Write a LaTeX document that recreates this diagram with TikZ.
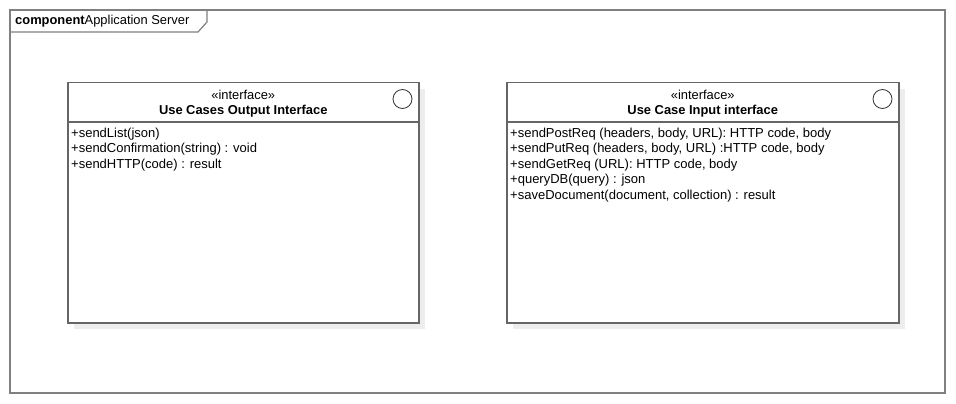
\documentclass[tikz,border=0pt]{standalone}
\usepackage{fontspec}
\setmainfont{Liberation Sans}
\usetikzlibrary{shadows}
\begin{document}
\begin{tikzpicture}[x=1pt,y=-1pt]
	\tikzstyle{frame}=[draw=black!50,line width=1.2pt]
	\tikzstyle{iface}=[draw=black!60,line width=1.5pt,fill=white,inner sep=0pt,anchor=north west,minimum height=240pt,
		drop shadow={shadow xshift=6pt,shadow yshift=-6pt,fill=black!7,opacity=1}]
	\tikzstyle{sep}=[draw=black!60,line width=1.2pt]
	\tikzstyle{ball}=[circle,draw=black!80,line width=0.8pt,minimum size=19pt,inner sep=0pt]
	\tikzstyle{label}=[inner sep=0pt,font=\fontsize{12.9}{14}\selectfont]
	\tikzstyle{ops}=[inner sep=0pt,anchor=north west,align=left,font=\fontsize{13}{15.6}\selectfont]
	\useasboundingbox (0,0) rectangle (956,404);
	% package frame
	\coordinate (tl) at (10,10);
	\coordinate (br) at (945,393);
	\draw[frame] (tl) rectangle (br);
	\draw[frame] (10,32) -- (198,32) -- (207,22) -- (207,10);
	\node[label,anchor=west] (title) at (15,21) {\textbf{component}Application Server};
	\begin{scope}
		% output interface
		\node[iface,minimum width=351pt] (out) at (67,82) {};
		\node[ball] (outb) at ([shift={(-17,17)}]out.north east) {};
		\node[label] (outst) at ([yshift=-13pt]out.north) {«interface»};
		\node[label,font=\fontsize{12.9}{14}\selectfont\bfseries] (outn) at ([yshift=-29.5pt]out.north) {Use Cases Output Interface};
		\path[sep] ([yshift=-40pt]out.north west) -- ([yshift=-40pt]out.north east);
		\node[ops] (outo) at ([shift={(4,45.5)}]out.north west) {+sendList(json)\\+sendConfirmation(string) : void\\+sendHTTP(code) : result};
	\end{scope}
	\begin{scope}
		% input interface
		\node[iface,minimum width=392pt] (in) at (506,82) {};
		\node[ball] (inb) at ([shift={(-17,17)}]in.north east) {};
		\node[label] (inst) at ([yshift=-13pt]in.north) {«interface»};
		\node[label,font=\fontsize{12.9}{14}\selectfont\bfseries] (inn) at ([yshift=-29.5pt]in.north) {Use Case Input interface};
		\path[sep] ([yshift=-40pt]in.north west) -- ([yshift=-40pt]in.north east);
		\node[ops] (ino) at ([shift={(4,45.5)}]in.north west) {+sendPostReq (headers, body, URL): HTTP code, body\\+sendPutReq (headers, body, URL) :HTTP code, body\\+sendGetReq (URL): HTTP code, body\\+queryDB(query) : json\\+saveDocument(document, collection) : result};
	\end{scope}
\end{tikzpicture}
\end{document}
